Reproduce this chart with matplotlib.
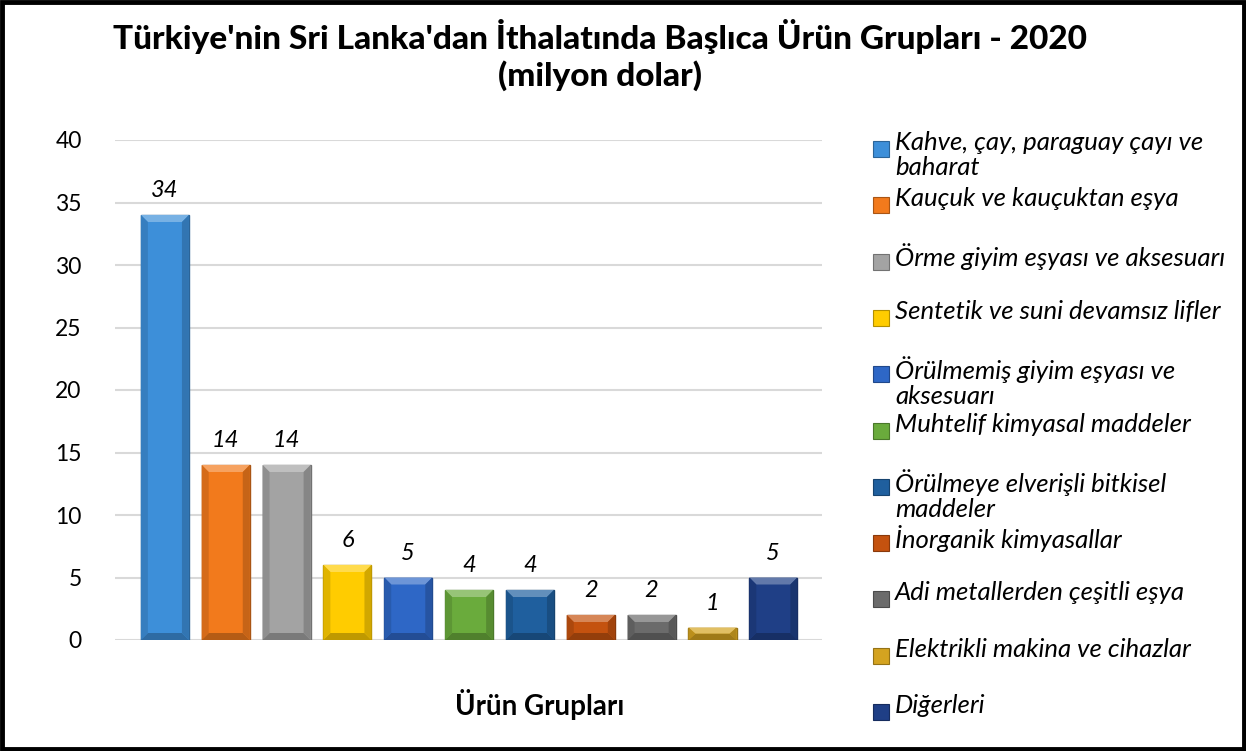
import numpy as np
import matplotlib.pyplot as plt
from matplotlib.patches import Rectangle, Polygon
import matplotlib.colors as mcolors

plt.rcParams['font.family'] = ['Lato', 'DejaVu Sans']

# Data
categories = [
    "Kahve, çay, paraguay çayı ve\nbaharat",
    "Kauçuk ve kauçuktan eşya",
    "Örme giyim eşyası ve aksesuarı",
    "Sentetik ve suni devamsız lifler",
    "Örülmemiş giyim eşyası ve\naksesuarı",
    "Muhtelif kimyasal maddeler",
    "Örülmeye elverişli bitkisel\nmaddeler",
    "İnorganik kimyasallar",
    "Adi metallerden çeşitli eşya",
    "Elektrikli makina ve cihazlar",
    "Diğerleri",
]
values = [34, 14, 14, 6, 5, 4, 4, 2, 2, 1, 5]
colors = ["#3d8fd9", "#f27a1c", "#a3a3a3", "#ffcc00", "#2e67c6",
          "#6aab3c", "#1f5f9e", "#c4520f", "#6b6b6b", "#d4a320", "#1f3f86"]
yticks = [0, 5, 10, 15, 20, 25, 30, 35, 40]


def shade(c, f):
    r, g, b = mcolors.to_rgb(c)
    if f > 1:
        return (r + (1 - r) * (f - 1), g + (1 - g) * (f - 1), b + (1 - b) * (f - 1))
    return (r * f, g * f, b * f)


fig = plt.figure(figsize=(12.46, 7.51), dpi=100)
ax = fig.add_axes([115 / 1246, 1 - 640 / 751, (822 - 115) / 1246, 500 / 751])

x = np.arange(len(values))
width = 0.79
bars = ax.bar(x, values, width=width, color=colors, zorder=3,
              edgecolor=[shade(c, 0.7) for c in colors], linewidth=1)

# simple bevel effect on each bar
px_x = (ax.get_position().width * 1246) / 11.62
px_y = 500 / 40
bev_x = 7 / px_x
for b, c in zip(bars, colors):
    x0, w, h = b.get_x(), b.get_width(), b.get_height()
    bev_y = min(7 / px_y, h / 2)
    top = Polygon([(x0, h), (x0 + w, h), (x0 + w - bev_x, h - bev_y), (x0 + bev_x, h - bev_y)],
                  closed=True, facecolor=shade(c, 1.3), edgecolor='none', zorder=4)
    bot = Polygon([(x0, 0), (x0 + w, 0), (x0 + w - bev_x, bev_y), (x0 + bev_x, bev_y)],
                  closed=True, facecolor=shade(c, 0.75), edgecolor='none', zorder=4)
    left = Polygon([(x0, 0), (x0, h), (x0 + bev_x, h - bev_y), (x0 + bev_x, bev_y)],
                   closed=True, facecolor=shade(c, 0.88), edgecolor='none', zorder=4)
    right = Polygon([(x0 + w, 0), (x0 + w, h), (x0 + w - bev_x, h - bev_y), (x0 + w - bev_x, bev_y)],
                    closed=True, facecolor=shade(c, 0.82), edgecolor='none', zorder=4)
    for p in (top, bot, left, right):
        ax.add_patch(p)
    ax.text(b.get_x() + w / 2, h + 1.1, str(int(h)), ha='center', va='bottom',
            fontsize=17, style='italic', color='black', zorder=5)

ax.set_xlim(-0.82, 10.8)
ax.set_ylim(0, 40)
ax.set_yticks(yticks)
ax.set_yticklabels([str(t) for t in yticks], fontsize=16.5)
ax.set_xticks([])
ax.tick_params(axis='y', length=0, pad=24)
ax.grid(axis='y', color='#d9d9d9', linewidth=1.5, zorder=0)
for s in ax.spines.values():
    s.set_visible(False)

# Title and axis title
fig.text(600 / 1246, 1 - 36 / 751, "Türkiye'nin Sri Lanka'dan İthalatında Başlıca Ürün Grupları - 2020",
         ha='center', va='center', fontsize=24, fontweight='black')
fig.text(600 / 1246, 1 - 76 / 751, "(milyon dolar)", ha='center', va='center',
         fontsize=24, fontweight='black')
fig.text(540 / 1246, 1 - 705 / 751, "Ürün Grupları", ha='center', va='center',
         fontsize=20, fontweight='bold')

# Legend (manual, top-aligned slots)
slot = 56.3
for i, (lab, c) in enumerate(zip(categories, colors)):
    ytop = 131 + i * slot
    fig.patches.append(Rectangle((873 / 1246, 1 - (ytop + 26) / 751), 16 / 1246, 16 / 751,
                                 transform=fig.transFigure, facecolor=c,
                                 edgecolor=shade(c, 0.7), linewidth=0.8))
    fig.text(895 / 1246, 1 - ytop / 751, lab, ha='left', va='top', fontsize=18.5,
             style='italic', linespacing=1.12)

# Outer frame
fig.patches.append(Rectangle((0.002, 0.003), 0.996, 0.994, transform=fig.transFigure,
                             fill=False, edgecolor='black', linewidth=3.5))

fig.savefig("out.png", dpi=100)
